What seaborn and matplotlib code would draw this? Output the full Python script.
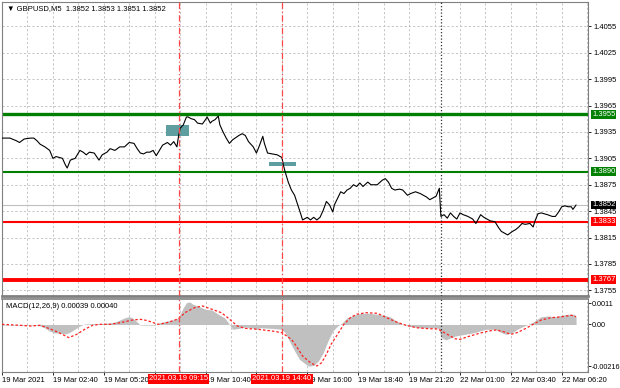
import numpy as np
import pandas as pd
import matplotlib
matplotlib.use("Agg")
import matplotlib.pyplot as plt
import matplotlib.transforms as mtransforms
from matplotlib.patches import Rectangle
import seaborn as sns

# ---------------- data ----------------
price_bar = [0, 5, 9, 11, 14, 18, 20, 22, 24, 27, 30, 32, 34, 38, 40, 41, 43, 46, 49, 51,
             53, 55, 58, 61, 63, 66, 68, 71, 74, 77, 80, 83, 85, 87, 89, 91, 93, 95, 97, 99,
             101, 104, 106, 108, 110, 111, 112, 114, 116, 117, 119, 121, 123, 126, 128, 129, 131, 132, 134, 136,
             137, 139, 141, 143, 145, 149, 151, 153, 155, 158, 160, 162, 164, 165, 167, 170, 173, 176, 177, 178,
             180, 182, 184, 186, 188, 189, 192, 194, 196, 198, 200, 202, 204, 206, 208, 209, 213, 215, 217, 219,
             221, 223, 225, 227, 230, 232, 236, 239, 241, 243, 245, 247, 250, 252, 255, 257, 260, 263, 265, 267,
             269, 271, 273, 275, 276, 278, 280, 282, 284, 286, 288, 290, 293, 296, 298, 301, 303, 305, 307, 310,
             312, 314, 316, 318, 321, 323, 325, 327, 329, 332, 334, 335, 337, 339, 341, 343, 346, 348, 350, 352,
             354, 356, 358, 359, 361]
price_close = [1.3928, 1.3928, 1.3925, 1.3923, 1.3927, 1.3928, 1.3928, 1.3925, 1.3921, 1.3918,
               1.3914, 1.3905, 1.3907, 1.3905, 1.3897, 1.3894, 1.3903, 1.3905, 1.3914, 1.3912,
               1.3909, 1.3912, 1.3911, 1.3903, 1.3909, 1.3912, 1.3916, 1.3914, 1.3918, 1.3918,
               1.3923, 1.3922, 1.3916, 1.3911, 1.3910, 1.3912, 1.3912, 1.3914, 1.3908, 1.3914,
               1.3920, 1.3923, 1.3920, 1.3924, 1.3918, 1.3930, 1.3939, 1.3943, 1.3952, 1.3952,
               1.3950, 1.3949, 1.3945, 1.3944, 1.3949, 1.3952, 1.3945, 1.3947, 1.3949, 1.3953,
               1.3943, 1.3935, 1.3928, 1.3922, 1.3926, 1.3931, 1.3933, 1.3931, 1.3924, 1.3918,
               1.3911, 1.3920, 1.3930, 1.3922, 1.3911, 1.3910, 1.3909, 1.3906, 1.3897, 1.3890,
               1.3878, 1.3869, 1.3863, 1.3852, 1.3841, 1.3835, 1.3838, 1.3835, 1.3838, 1.3835,
               1.3838, 1.3846, 1.3856, 1.3852, 1.3844, 1.3852, 1.3867, 1.3865, 1.3869, 1.3871,
               1.3875, 1.3873, 1.3877, 1.3873, 1.3878, 1.3875, 1.3875, 1.3880, 1.3882, 1.3878,
               1.3871, 1.3869, 1.3870, 1.3869, 1.3863, 1.3865, 1.3867, 1.3865, 1.3863, 1.3861,
               1.3858, 1.3860, 1.3862, 1.3871, 1.3839, 1.3841, 1.3837, 1.3843, 1.3839, 1.3836,
               1.3843, 1.3841, 1.3839, 1.3836, 1.3831, 1.3841, 1.3838, 1.3836, 1.3834, 1.3833,
               1.3827, 1.3822, 1.3820, 1.3818, 1.3822, 1.3824, 1.3827, 1.3831, 1.3830, 1.3831,
               1.3827, 1.3833, 1.3842, 1.3843, 1.3842, 1.3841, 1.3839, 1.3839, 1.3844, 1.3850,
               1.3851, 1.3850, 1.3850, 1.3847, 1.3852]

macd_bar = [0, 11, 21, 24, 27, 30, 33, 36, 40, 43, 46, 49, 52, 62, 68, 71, 74, 77, 80, 82,
            85, 87, 93, 96, 99, 104, 109, 111, 112, 114, 116, 118, 120, 123, 128, 132, 136, 140, 143, 145,
            149, 153, 157, 160, 162, 170, 176, 178, 181, 184, 187, 191, 193, 196, 199, 202, 205, 208, 211, 214,
            217, 220, 223, 226, 231, 236, 240, 244, 248, 252, 257, 263, 269, 274, 275, 276, 279, 285, 291, 297,
            304, 310, 314, 317, 321, 324, 327, 331, 334, 337, 339, 343, 348, 352, 356, 360, 361]
macd_main = [-0.00003, -0.00003, -0.00003, -0.00008, -0.00018, -0.00034, -0.00044, -0.00044, -0.00049, -0.00039,
             -0.00023, -0.00008, 0.00003, 0.00005, 0.00008, 0.00013, 0.00023, 0.00034, 0.00041, 0.00034,
             0.00013, -0.00003, -0.00003, -0.00004, 0.00008, 0.00018, 0.00027, 0.00035, 0.00053, 0.00087,
             0.00113, 0.00117, 0.00105, 0.00096, 0.00079, 0.00075, 0.00053, 0.00035, 0.00001, -0.00025,
             -0.00020, -0.00013, -0.00017, -0.00025, -0.00017, -0.00020, -0.00025, -0.00042, -0.00090, -0.00137,
             -0.00180, -0.00206, -0.00216, -0.00212, -0.00189, -0.00146, -0.00085, -0.00034, -0.00008, 0.00009,
             0.00035, 0.00044, 0.00053, 0.00058, 0.00058, 0.00053, 0.00048, 0.00040, 0.00018, 0.00001,
             -0.00011, -0.00017, -0.00017, -0.00018, -0.00028, -0.00065, -0.00080, -0.00060, -0.00051, -0.00042,
             -0.00025, -0.00025, -0.00042, -0.00051, -0.00042, -0.00025, -0.00013, 0.00001, 0.00013, 0.00030,
             0.00040, 0.00044, 0.00040, 0.00048, 0.00053, 0.00053, 0.00039]

signal_bar = [0, 11, 18, 24, 30, 35, 42, 47, 52, 57, 62, 68, 74, 82, 87, 91, 94, 98, 103, 107,
              111, 115, 121, 126, 132, 138, 142, 148, 153, 161, 170, 176, 182, 185, 189, 194, 198, 201, 204, 207,
              211, 215, 219, 223, 229, 236, 242, 248, 254, 261, 269, 274, 279, 285, 288, 293, 300, 306, 311, 316,
              320, 324, 329, 334, 339, 345, 352, 358, 361]
signal_vals = [0.00001, -0.00004, -0.00008, -0.00004, -0.00022, -0.00039, -0.00068, -0.00051, -0.00025, -0.00004,
               0.00001, 0.00001, 0.00009, 0.00023, 0.00027, 0.00021, 0.00013, 0.00001, 0.00008, 0.00018,
               0.00030, 0.00061, 0.00087, 0.00096, 0.00079, 0.00061, 0.00035, -0.00008, -0.00020, -0.00025,
               -0.00034, -0.00042, -0.00077, -0.00111, -0.00163, -0.00198, -0.00215, -0.00198, -0.00154, -0.00102,
               -0.00051, 0.00001, 0.00035, 0.00053, 0.00061, 0.00058, 0.00035, 0.00013, -0.00004, -0.00017,
               -0.00022, -0.00023, -0.00046, -0.00074, -0.00077, -0.00063, -0.00046, -0.00034, -0.00028, -0.00039,
               -0.00051, -0.00042, -0.00022, 0.00001, 0.00023, 0.00035, 0.00040, 0.00048, 0.00040]

level_prices = [1.3955, 1.3890, 1.3833, 1.3767]
level_labels = ["1.3955", "1.3890", "1.3833", "1.3767"]
level_colors = ["#008000", "#008000", "#ff0000", "#ff0000"]
level_widths = [2.4, 1.5, 1.5, 2.8]
current_price = 1.3852
current_label = "1.3852"

price_ticks = [1.4055, 1.4025, 1.3995, 1.3965, 1.3935, 1.3905, 1.3875, 1.3845, 1.3815, 1.3785, 1.3755]
macd_ticks = [0.0011, 0.0, -0.00216]
macd_tick_labels = ["0.0011", "0.00", "-0.00216"]

time_tick_bars = [0, 32, 64, 96, 128, 160, 192, 224, 256, 288, 320, 352]
time_tick_labels = ["19 Mar 2021", "19 Mar 02:40", "19 Mar 05:20", "19 Mar 08:00", "19 Mar 10:40",
                    "19 Mar 13:20", "19 Mar 16:00", "19 Mar 18:40", "19 Mar 21:20", "22 Mar 01:00",
                    "22 Mar 03:40", "22 Mar 06:20"]
event_bars = [111, 176]
event_labels = ["2021.03.19 09:15", "2021.03.19 14:40"]
separator_bar = 276

zone_start = [103, 168]
zone_end = [117.5, 185]
zone_low = [1.39303, 1.38963]
zone_high = [1.39428, 1.39008]

header_text = "\u25BC GBPUSD,M5  1.3852 1.3853 1.3851 1.3852"
macd_text = "MACD(12,26,9) 0.00039 0.00040"

# ---------------- style ----------------
sns.set_theme(style="white")
plt.rcParams["font.family"] = ["Liberation Sans", "DejaVu Sans"]
plt.rcParams["font.size"] = 5.5
FS = 5.5

W, H = 620, 388
fig = plt.figure(figsize=(W / 100, H / 100), dpi=100)
fig.patch.set_facecolor("white")
ax1 = fig.add_axes([2 / W, 1 - 296 / H, 586 / W, 294 / H])
ax2 = fig.add_axes([2 / W, 1 - 372 / H, 586 / W, 73 / H])

XMAX = 368.5
grid_bars = np.arange(16, XMAX, 16)
grid_kw = dict(color="#c4c4c4", lw=0.7, linestyle=(0, (2.2, 2.2)))

# ---------------- main panel ----------------
price_df = pd.DataFrame({"bar": price_bar, "close": price_close})
ax1.set_xlim(0, XMAX)
ax1.set_ylim(1.37486, 1.40826)
for gx in grid_bars:
    ax1.axvline(gx, zorder=0, **grid_kw)
for gy in price_ticks:
    ax1.axhline(gy, zorder=0, **grid_kw)

ax1.axhline(current_price, color="#c0c0c0", lw=0.8, zorder=1)
for p, c, w in zip(level_prices, level_colors, level_widths):
    ax1.axhline(p, color=c, lw=w, zorder=2)

for s, e, lo, hi in zip(zone_start, zone_end, zone_low, zone_high):
    ax1.add_patch(Rectangle((s, lo), e - s, hi - lo, facecolor="#5f9ea0", edgecolor="none", zorder=3))

sns.lineplot(data=price_df, x="bar", y="close", ax=ax1, color="black", lw=0.8,
             legend=False, zorder=4)

for eb in event_bars:
    for ax in (ax1, ax2):
        ax.axvline(eb, color="#ff4848", lw=0.9, linestyle=(0, (5, 2, 1, 2)), zorder=5)
for ax in (ax1, ax2):
    ax.axvline(separator_bar, color="#303030", lw=0.9, linestyle=(0, (1, 1.6)), zorder=5)

ax1.yaxis.tick_right()
ax1.set_yticks(price_ticks)
ax1.set_yticklabels([f"{v:.4f}" for v in price_ticks])
ax1.tick_params(axis="y", right=True, length=2.5, width=0.6, pad=1.5, labelsize=FS, colors="black")
ax1.set_xticks([])
ax1.set_xlabel("")
ax1.set_ylabel("")

trans_r = mtransforms.blended_transform_factory(ax1.transAxes, ax1.transData)
for p, lab, c in zip(level_prices, level_labels, level_colors):
    ax1.text(1.0 + 4 / 586, p, lab, transform=trans_r, ha="left", va="center", fontsize=FS,
             color="white", clip_on=False, zorder=10,
             bbox=dict(boxstyle="square,pad=0.12", facecolor=c, edgecolor="none"))
ax1.text(1.0 + 4 / 586, current_price, current_label, transform=trans_r, ha="left", va="center",
         fontsize=FS, color="white", clip_on=False, zorder=10,
         bbox=dict(boxstyle="square,pad=0.12", facecolor="black", edgecolor="none"))

ax1.text(5 / 586, 1 - 7 / 294, header_text, transform=ax1.transAxes, ha="left", va="center",
         fontsize=FS, color="black", zorder=10)

for sp in ax1.spines.values():
    sp.set_color("#808080")
    sp.set_linewidth(0.8)
ax1.spines["bottom"].set_linewidth(2.0)

# ---------------- MACD panel ----------------
ax2.set_xlim(0, XMAX)
ax2.set_ylim(-0.002461, 0.001321)
for gx in grid_bars:
    ax2.axvline(gx, zorder=0, **grid_kw)

ax2.fill_between(macd_bar, macd_main, 0, color="#c0c0c0", lw=0, zorder=2)
sig_df = pd.DataFrame({"bar": signal_bar, "signal": signal_vals})
sns.lineplot(data=sig_df, x="bar", y="signal", ax=ax2, color="#ff2020", lw=0.9,
             linestyle=(0, (2, 1.6)), legend=False, zorder=4)

ax2.yaxis.tick_right()
ax2.set_yticks(macd_ticks)
ax2.set_yticklabels(macd_tick_labels)
ax2.tick_params(axis="y", right=True, length=2.0, width=0.6, pad=0.6, labelsize=5.2, colors="black")
ax2.set_xticks(time_tick_bars)
ax2.set_xticklabels(time_tick_labels)
ax2.tick_params(axis="x", bottom=True, length=2.5, width=0.6, pad=1, labelsize=FS, colors="black")
for t in ax2.get_xticklabels():
    t.set_ha("left")
ax2.set_xlabel("")
ax2.set_ylabel("")

ax2.text(4 / 586, (372 - 306) / 73, macd_text, transform=ax2.transAxes, ha="left", va="center",
         fontsize=FS, color="black", zorder=10)

trans_b = mtransforms.blended_transform_factory(ax2.transData, ax2.transAxes)
for eb, lab in zip(event_bars, event_labels):
    ax2.text(eb, -(379 - 372) / 73, lab, transform=trans_b, ha="center", va="center",
             fontsize=FS, color="white", clip_on=False, zorder=10,
             bbox=dict(boxstyle="square,pad=0.15", facecolor="#ff0000", edgecolor="none"))

for sp in ax2.spines.values():
    sp.set_color("#808080")
    sp.set_linewidth(0.8)
ax2.spines["top"].set_linewidth(1.2)

fig.savefig("out.png", dpi=100, facecolor="white")
